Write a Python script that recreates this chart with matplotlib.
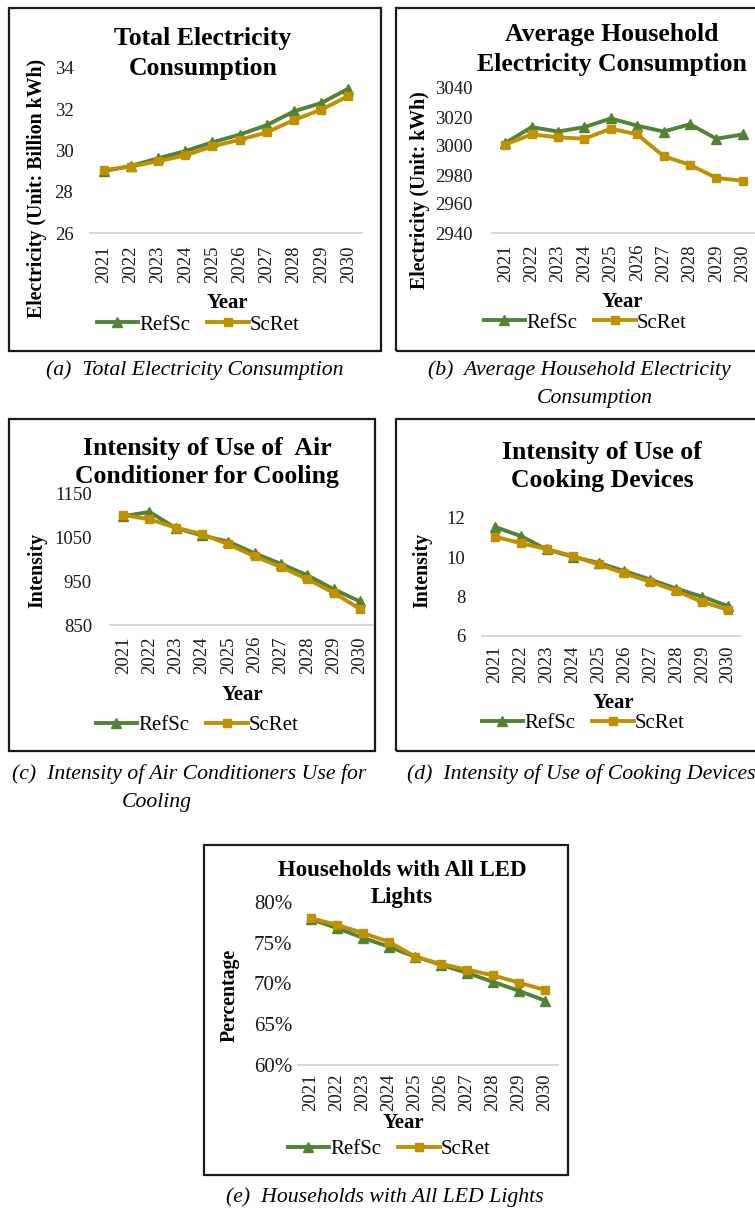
import matplotlib.pyplot as plt
from matplotlib.patches import Rectangle
from matplotlib.ticker import FuncFormatter

plt.rcParams['font.family'] = ['Liberation Serif', 'DejaVu Serif']

years = ['2021', '2022', '2023', '2024', '2025', '2026', '2027', '2028', '2029', '2030']

# (a) total electricity, billion kWh
total_ref = [29.0, 29.25, 29.62, 29.97, 30.4, 30.77, 31.23, 31.9, 32.3, 33.0]
total_ret = [29.05, 29.22, 29.48, 29.76, 30.2, 30.52, 30.88, 31.48, 31.98, 32.64]

# (b) average household electricity, kWh
house_ref = [3002, 3013, 3010, 3013, 3019, 3014, 3010, 3015, 3005, 3008]
house_ret = [3001, 3008, 3006, 3005, 3012, 3008, 2993, 2987, 2978, 2976]

# (c) air conditioner intensity
ac_ref = [1099, 1109, 1072, 1055, 1041, 1014, 990, 964, 932, 904]
ac_ret = [1102, 1092, 1073, 1058, 1035, 1007, 983, 955, 924, 887]

# (d) cooking devices intensity
cook_ref = [11.55, 11.08, 10.4, 10.03, 9.72, 9.3, 8.87, 8.41, 8.0, 7.52]
cook_ret = [11.05, 10.72, 10.42, 10.07, 9.64, 9.18, 8.76, 8.29, 7.74, 7.33]

# (e) households with all LED lights, %
led_ref = [77.9, 76.8, 75.6, 74.5, 73.3, 72.3, 71.3, 70.2, 69.1, 67.9]
led_ret = [78.0, 77.2, 76.2, 75.1, 73.3, 72.4, 71.7, 71.0, 70.1, 69.2]

W, H = 755, 1213
GREEN = '#548235'
GOLD = '#bf9000'

fig = plt.figure(figsize=(W / 100, H / 100), dpi=100)


def fx(x):
    return x / W


def fy(y):
    return 1 - y / H


def box(x0, y0, x1, y1):
    fig.patches.append(Rectangle((fx(x0), fy(y1)), fx(x1 - x0), (y1 - y0) / H,
                                 transform=fig.transFigure, fill=False,
                                 edgecolor='#1a1a1a', linewidth=1.6))


def panel(area, ylim, yticks, ref, ret, title, title_x, title_ys, ylabel, ylabel_xy,
          year_xy, legend_xy, fmt=None, ypad=12, xpad=8, ysize=13.5, tsize=18.5):
    x0, y0, x1, y1 = area
    ax = fig.add_axes([fx(x0), fy(y1), fx(x1 - x0), (y1 - y0) / H])
    xs = range(len(years))
    ax.plot(xs, ref, color=GREEN, lw=2.8, marker='^', ms=7, label='RefSc')
    ax.plot(xs, ret, color=GOLD, lw=2.8, marker='s', ms=6, label='ScRet')
    ax.set_xlim(-0.5, len(years) - 0.5)
    ax.set_ylim(*ylim)
    ax.set_yticks(yticks)
    if fmt:
        ax.yaxis.set_major_formatter(FuncFormatter(fmt))
    ax.set_xticks(list(xs))
    ax.set_xticklabels(years, rotation=90)
    ax.tick_params(length=0, colors='#1a1a1a')
    ax.tick_params(axis='x', labelsize=13.5, pad=xpad)
    ax.tick_params(axis='y', labelsize=ysize, pad=ypad)
    for s in ['top', 'right', 'left']:
        ax.spines[s].set_visible(False)
    ax.spines['bottom'].set_color('#d0d0d0')
    ax.spines['bottom'].set_linewidth(1.2)
    ax.patch.set_alpha(0)
    # title drawn line by line
    for line, ty in zip(title, title_ys):
        fig.text(fx(title_x), fy(ty), line, ha='center', va='center',
                 fontsize=tsize, fontweight='bold')
    fig.text(fx(ylabel_xy[0]), fy(ylabel_xy[1]), ylabel, ha='center', va='center',
             rotation=90, fontsize=14.3, fontweight='bold')
    fig.text(fx(year_xy[0]), fy(year_xy[1]), 'Year', ha='center', va='center',
             fontsize=15, fontweight='bold')
    fig.legend(*ax.get_legend_handles_labels(), loc='center',
               bbox_to_anchor=(fx(legend_xy[0]), fy(legend_xy[1])), ncol=2,
               frameon=False, fontsize=15, handlelength=2.0, handletextpad=0.05,
               columnspacing=0.8, borderpad=0)
    return ax


# panel boxes
box(9, 8, 381, 351)
box(396, 8, 762, 351)
box(9, 419, 375, 751)
box(396, 419, 762, 751)
box(204, 845, 568, 1175)

panel((90, 68, 362, 233), (26, 34), [26, 28, 30, 32, 34], total_ref, total_ret,
      ['Total Electricity', 'Consumption'], 203, (39, 68),
      'Electricity (Unit: Billion kWh)', (37, 188), (227, 303), (198, 325),
      ypad=12, xpad=9)

panel((492, 88, 756, 233), (2940, 3040), range(2940, 3041, 20), house_ref, house_ret,
      ['Average Household', 'Electricity Consumption'], 612, (35, 64),
      'Electricity (Unit: kWh)', (420, 190), (622, 302), (585, 323),
      ypad=14, xpad=8)

panel((110, 494, 373, 625), (850, 1150), [850, 950, 1050, 1150], ac_ref, ac_ret,
      ['Intensity of Use of  Air', 'Conditioner for Cooling'], 207, (449, 477),
      'Intensity', (37, 570), (242, 695), (197, 725),
      ypad=13, xpad=8)

panel((482, 518, 741, 636), (6, 12), [6, 8, 10, 12], cook_ref, cook_ret,
      ['Intensity of Use of', 'Cooking Devices'], 602, (452, 481),
      'Intensity', (422, 570), (613, 703), (583, 723),
      ypad=12, xpad=7)

panel((298, 902, 558, 1065), (60, 80), [60, 65, 70, 75, 80], led_ref, led_ret,
      ['Households with All LED', 'Lights'], 402, (871, 898),
      'Percentage', (230, 995), (403, 1123), (389, 1149),
      fmt=lambda v, p: f'{v:.0f}%', ypad=4, xpad=6, ysize=15, tsize=16.5)

# captions
cap = dict(ha='center', va='center', fontsize=15.7, style='italic')
fig.text(fx(195), fy(370), '(a)  Total Electricity Consumption', **cap)
fig.text(fx(579), fy(370), '(b)  Average Household Electricity', **cap)
fig.text(fx(595), fy(399), 'Consumption', **cap)
fig.text(fx(189), fy(774), '(c)  Intensity of Air Conditioners Use for', **cap)
fig.text(fx(157), fy(802), 'Cooling', **cap)
fig.text(fx(581), fy(774), '(d)  Intensity of Use of Cooking Devices', **cap)
fig.text(fx(385), fy(1197), '(e)  Households with All LED Lights', **cap)

fig.savefig('out.png', dpi=100, facecolor='white')
